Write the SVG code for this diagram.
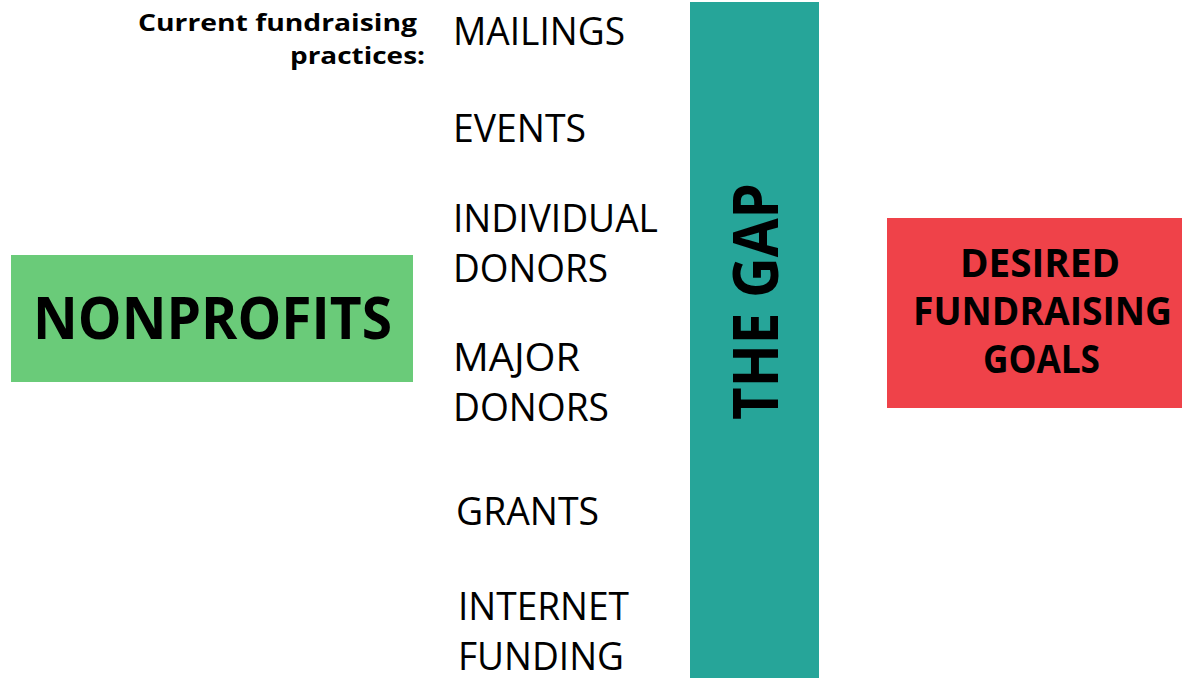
<svg xmlns="http://www.w3.org/2000/svg" width="1182" height="678" viewBox="0 0 1182 678">
<style>
.reg{font-family:"Open Sans","Liberation Sans",sans-serif;font-weight:400;fill:#000}
.bold{font-family:"Open Sans","Liberation Sans",sans-serif;font-weight:700;fill:#000}
</style>
<rect width="1182" height="678" fill="#fff"/>
<g id="nonprofits">
<rect x="11" y="255" width="402" height="127" fill="#6ACB79"/>
<text class="bold" x="33" y="339" font-size="59" textLength="359" lengthAdjust="spacingAndGlyphs">NONPROFITS</text>
</g>
<g id="practices-label">
<text class="bold" x="417" y="31" font-size="23" text-anchor="end" textLength="279" lengthAdjust="spacingAndGlyphs">Current fundraising</text>
<text class="bold" x="425" y="64" font-size="23" text-anchor="end" textLength="135" lengthAdjust="spacingAndGlyphs">practices:</text>
</g>
<g id="mailings"><text class="reg" x="453" y="45" font-size="39" textLength="172" lengthAdjust="spacingAndGlyphs">MAILINGS</text></g>
<g id="events"><text class="reg" x="453" y="142" font-size="39" textLength="133" lengthAdjust="spacingAndGlyphs">EVENTS</text></g>
<g id="individual-donors">
<text class="reg" x="453" y="232" font-size="39" textLength="205" lengthAdjust="spacingAndGlyphs">INDIVIDUAL</text>
<text class="reg" x="453" y="282" font-size="39" textLength="155" lengthAdjust="spacingAndGlyphs">DONORS</text>
</g>
<g id="major-donors">
<text class="reg" x="453" y="371" font-size="39" textLength="127" lengthAdjust="spacingAndGlyphs">MAJOR</text>
<text class="reg" x="453" y="421" font-size="39" textLength="156" lengthAdjust="spacingAndGlyphs">DONORS</text>
</g>
<g id="grants"><text class="reg" x="456" y="525" font-size="39" textLength="143" lengthAdjust="spacingAndGlyphs">GRANTS</text></g>
<g id="internet-funding">
<text class="reg" x="458" y="620" font-size="39" textLength="171" lengthAdjust="spacingAndGlyphs">INTERNET</text>
<text class="reg" x="458" y="670" font-size="39" textLength="166" lengthAdjust="spacingAndGlyphs">FUNDING</text>
</g>
<g id="the-gap">
<rect x="690" y="2" width="129" height="676" fill="#26A599"/>
<text class="bold" transform="translate(778 301.5) rotate(-90)" x="0" y="0" font-size="63" text-anchor="middle" textLength="237" lengthAdjust="spacingAndGlyphs">THE GAP</text>
</g>
<g id="desired-goals">
<rect x="887" y="218" width="295" height="190" fill="#EF4249"/>
<text class="bold" x="1040" y="277" font-size="40" text-anchor="middle" textLength="160" lengthAdjust="spacingAndGlyphs">DESIRED</text>
<text class="bold" x="1042.5" y="325" font-size="40" text-anchor="middle" textLength="259" lengthAdjust="spacingAndGlyphs">FUNDRAISING</text>
<text class="bold" x="1041.5" y="373" font-size="40" text-anchor="middle" textLength="117" lengthAdjust="spacingAndGlyphs">GOALS</text>
</g>
<g id="connectors"></g>
</svg>
